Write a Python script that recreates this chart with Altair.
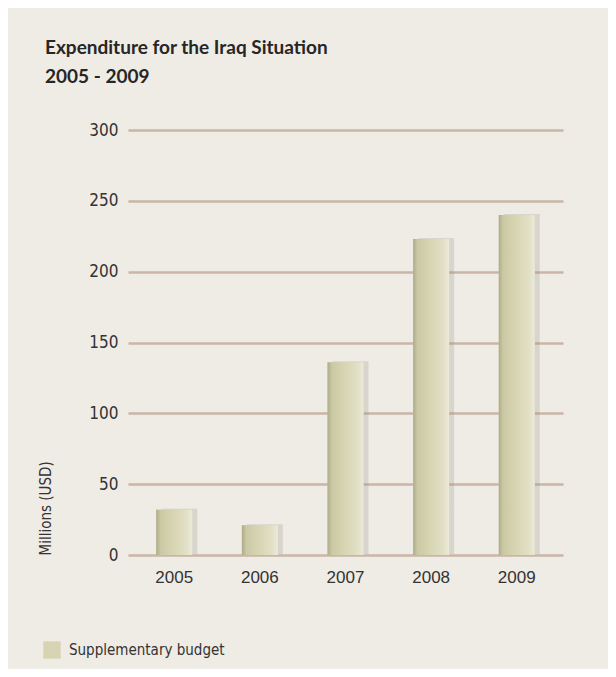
import altair as alt
import pandas as pd

years = ["2005", "2006", "2007", "2008", "2009"]
values = [32, 21, 136, 223, 240]
series_name = ["Supplementary budget"]
y_ticks = [0, 50, 100, 150, 200, 250, 300]

df = pd.DataFrame({"year": years, "value": values, "series": series_name * len(years)})

NARROW = "DejaVu Sans Condensed, Liberation Sans, sans-serif"

x_enc = alt.X("year:N", sort=years, title=None,
              scale=alt.Scale(paddingInner=0.58, paddingOuter=0.33),
              axis=alt.Axis(labelAngle=0, domain=False, ticks=False, grid=False,
                            labelFont="Liberation Sans", labelFontSize=17,
                            labelColor="#333333", labelPadding=14))
y_enc = alt.Y("value:Q", title="Millions (USD)",
              scale=alt.Scale(domain=[0, 300], nice=False),
              axis=alt.Axis(values=y_ticks, domain=False, ticks=False, grid=True,
                            gridColor="#c9b6a6", gridWidth=2.5, gridOpacity=1,
                            labelFont=NARROW, labelFontSize=17,
                            labelColor="#333333", labelPadding=10,
                            titleFont=NARROW, titleFontSize=15,
                            titleFontWeight="normal", titleColor="#333333",
                            titleAnchor="start", titleX=-75, titleAngle=-90))

base = alt.Chart(df)

shadow = base.mark_bar(color="#8a8a80", opacity=0.22, xOffset=5, yOffset=-1).encode(
    x=x_enc, y=y_enc)

legend_bars = base.mark_bar().encode(
    x=x_enc, y=y_enc,
    color=alt.Color("series:N", title=None,
                    scale=alt.Scale(domain=series_name, range=["#d7d4b4"]),
                    legend=alt.Legend(orient="none", legendX=-85, legendY=511,
                                      symbolType="square", symbolSize=300,
                                      symbolStrokeWidth=0, labelFontSize=15,
                                      labelFont=NARROW,
                                      labelColor="#333333", labelOffset=8)))

grad = alt.Gradient(
    gradient="linear", x1=0, x2=1, y1=0, y2=0,
    stops=[alt.GradientStop(color="#aeab89", offset=0),
           alt.GradientStop(color="#cbc8a4", offset=0.12),
           alt.GradientStop(color="#d7d4b2", offset=0.45),
           alt.GradientStop(color="#e2e0c6", offset=0.85),
           alt.GradientStop(color="#ecebd9", offset=1)])

bars = base.mark_bar(fill=grad).encode(x=x_enc, y=y_enc)

chart = alt.layer(shadow, legend_bars, bars).properties(
    width=435, height=425,
    autosize=alt.AutoSizeParams(type="none"),
    padding={"left": 120, "top": 122, "right": 45, "bottom": 114},
    background="#efebe5",
    title=alt.TitleParams(text=["Expenditure for the Iraq Situation", "2005 - 2009"],
                          anchor="start", frame="group", dx=-83, offset=34,
                          font="Lato", fontSize=19, fontWeight="bold",
                          color="#262626", lineHeight=29),
).configure_view(stroke=None)

chart.save("out.html", embed_options={"renderer": "svg", "actions": False})
